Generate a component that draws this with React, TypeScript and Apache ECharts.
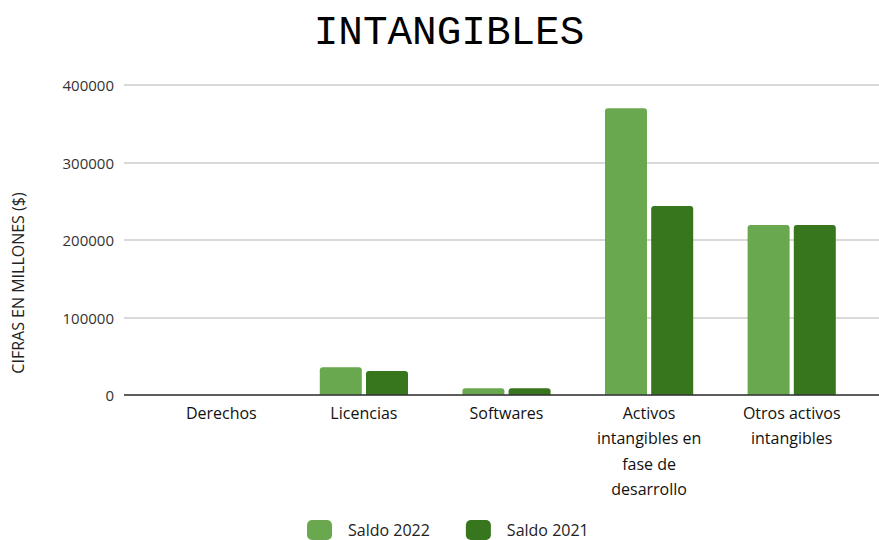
import React, { useEffect, useRef } from "react";
import * as echarts from "echarts";

const categories = ["Derechos", "Licencias", "Softwares", "Activos intangibles en fase de desarrollo", "Otros activos intangibles"];
const categoryLabels = ["Derechos", "Licencias", "Softwares", "Activos\nintangibles en\nfase de\ndesarrollo", "Otros activos\nintangibles"];
const saldo2022 = [0, 35700, 8600, 370000, 219400];
const saldo2021 = [0, 31000, 8600, 244000, 219400];
const seriesNames = ["Saldo 2022", "Saldo 2021"];
const yTicks = { min: 0, max: 400000, interval: 100000 };

export default function App() {
  const ref = useRef<HTMLDivElement>(null);
  useEffect(() => {
    if (!ref.current) return;
    const chart = echarts.init(ref.current, null, { renderer: "svg" });
    const labelMap: Record<string, string> = {};
    categories.forEach((c, i) => (labelMap[c] = categoryLabels[i]));
    chart.setOption({
      animation: false,
      backgroundColor: "#ffffff",
      title: {
        text: "INTANGIBLES",
        left: 444,
        top: 7,
        textAlign: "center",
        textStyle: { fontFamily: "Liberation Mono", fontSize: 41, fontWeight: "normal", color: "#000" },
      },
      legend: {
        data: seriesNames,
        top: 520,
        left: 307,
        padding: 0,
        itemWidth: 25,
        itemHeight: 20,
        itemGap: 36,
        icon: "roundRect",
        textStyle: { fontFamily: "Open Sans", fontSize: 16, color: "#222", padding: [0, 0, 0, 11] },
      },
      graphic: [
        {
          type: "text",
          x: 10,
          y: 283,
          rotation: Math.PI / 2,
          style: {
            text: "CIFRAS EN MILLONES ($)",
            fontFamily: "Open Sans",
            fontSize: 16,
            fill: "#222",
            align: "center",
            verticalAlign: "top",
          },
        },
      ],
      grid: [
        { left: 124, right: 0, top: 85, bottom: 145 },
        { left: 150, right: 16, top: 85, bottom: 145 },
      ],
      xAxis: [
        {
          gridIndex: 0,
          type: "value",
          min: 0,
          max: 1,
          axisLine: { show: false },
          axisTick: { show: false },
          axisLabel: { show: false },
          splitLine: { show: false },
        },
        {
          gridIndex: 1,
          type: "category",
          data: categories,
          axisLine: { show: false },
          axisTick: { show: false },
          axisLabel: {
            formatter: (v: string) => labelMap[v],
            fontFamily: "Open Sans",
            fontSize: 16,
            color: "#111",
            lineHeight: 25.5,
            margin: 5,
            verticalAlign: "top",
            interval: 0,
          },
        },
      ],
      yAxis: [
        {
          gridIndex: 0,
          type: "value",
          min: yTicks.min,
          max: yTicks.max,
          interval: yTicks.interval,
          axisLine: { show: false },
          axisTick: { show: false },
          axisLabel: { fontFamily: "Open Sans", fontSize: 15, color: "#333", margin: 10, formatter: (v: number) => String(v) },
          splitLine: { lineStyle: { color: "#cccccc", width: 1.5 } },
        },
        {
          gridIndex: 1,
          type: "value",
          min: yTicks.min,
          max: yTicks.max,
          interval: yTicks.interval,
          axisLine: { show: false },
          axisTick: { show: false },
          axisLabel: { show: false },
          splitLine: { show: false },
        },
      ],
      series: [
        {
          name: seriesNames[0],
          type: "bar",
          xAxisIndex: 1,
          yAxisIndex: 1,
          data: saldo2022,
          barWidth: 42,
          barGap: "10%",
          itemStyle: { color: "#6aa84f", borderRadius: [3, 3, 0, 0] },
        },
        {
          name: seriesNames[1],
          type: "bar",
          xAxisIndex: 1,
          yAxisIndex: 1,
          data: saldo2021,
          barWidth: 42,
          barGap: "10%",
          itemStyle: { color: "#38761d", borderRadius: [3, 3, 0, 0] },
        },
        {
          type: "line",
          xAxisIndex: 0,
          yAxisIndex: 0,
          data: [],
          silent: true,
          markLine: {
            silent: true,
            symbol: "none",
            label: { show: false },
            lineStyle: { color: "#333333", width: 1.5, type: "solid" },
            data: [{ yAxis: 0 }],
          },
        },
      ],
    });
    return () => chart.dispose();
  }, []);
  return <div ref={ref} style={{ width: 879, height: 540, position: "absolute", left: 0, top: 0 }} />;
}
